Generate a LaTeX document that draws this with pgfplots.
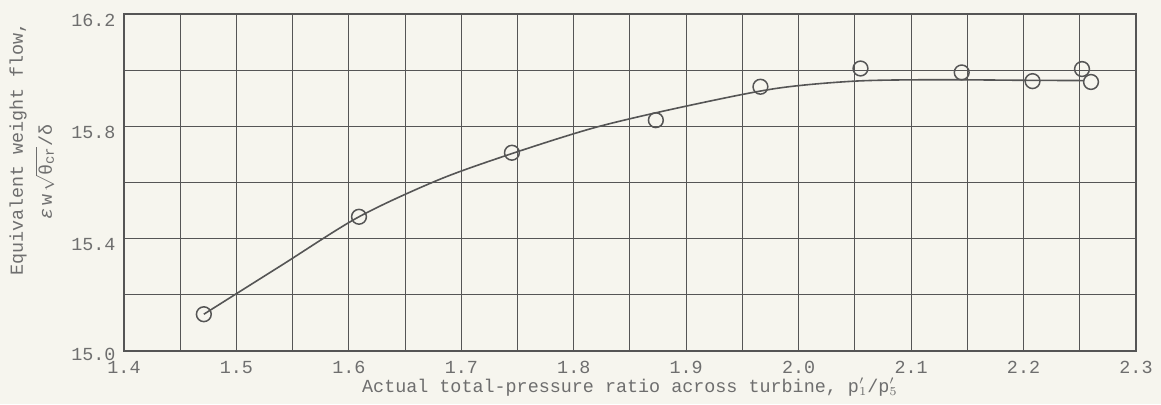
\documentclass[border=0pt]{standalone}
\usepackage{fontspec}
\setmainfont{Liberation Mono}
\usepackage{pgfplots}
\pgfplotsset{compat=1.18}
\usetikzlibrary{backgrounds}
\definecolor{paper}{RGB}{246,245,238}
\definecolor{ink}{RGB}{85,85,85}
\definecolor{txt}{RGB}{110,110,110}
\begin{document}
\fontsize{9.2}{11}\selectfont
\begin{tikzpicture}[show background rectangle, background rectangle/.style={fill=paper, draw=none}, inner frame sep=0pt]
\useasboundingbox (0,0) rectangle (580.5pt,202pt);
\begin{axis}[
  at={(62pt,26.5pt)}, anchor=south west,
  scale only axis, width=506pt, height=168.5pt,
  xmin=1.4, xmax=2.3, ymin=15.0, ymax=16.2,
  xtick={1.4,1.5,1.6,1.7,1.8,1.9,2.0,2.1,2.2,2.3},
  minor xtick={1.45,1.55,1.65,1.75,1.85,1.95,2.05,2.15,2.25},
  ytick={15.0,15.4,15.8,16.2},
  yticklabels={\raisebox{2.5pt}{15.0},15.4,15.8,16.2},
  minor ytick={15.2,15.6,16.0},
  grid=both,
  major grid style={ink, line width=0.5pt},
  minor grid style={ink, line width=0.5pt},
  major tick length=0pt, minor tick length=0pt,
  axis line style={ink, line width=0.6pt},
  /pgf/number format/assume math mode=true,
  /pgf/number format/fixed, /pgf/number format/fixed zerofill, /pgf/number format/precision=1,
  ticklabel style={text=txt, font=\fontsize{9.2}{11}\selectfont},
  yticklabel style={yshift=-3pt, xshift=-1pt},
  xticklabel style={yshift=-2pt},
  xlabel={Actual total-pressure ratio across turbine, p$'_{1}$/p$'_{5}$},
  xlabel style={text=txt, font=\fontsize{9.2}{11}\selectfont, yshift=4.5pt},
]
\addplot[ink, line width=0.8pt, smooth] coordinates {
(1.471,15.131) (1.54,15.305) (1.609,15.478) (1.68,15.610) (1.745,15.703)
(1.82,15.797) (1.90,15.872) (1.98,15.935) (2.05,15.961) (2.12,15.966)
(2.20,15.964) (2.253,15.963)
};
\addplot[only marks, mark=o, mark size=3.7pt, ink, line width=0.75pt] coordinates {
(1.471,15.131) (1.609,15.478) (1.745,15.706) (1.873,15.822) (1.966,15.941)
(2.055,16.006) (2.145,15.992) (2.208,15.961) (2.252,16.004) (2.260,15.958)
};
\end{axis}
\node[rotate=90, text=txt, inner sep=0pt] at (9pt,127.5pt) {Equivalent weight flow,};
\node[rotate=90, text=txt, inner sep=0pt] at (22.5pt,116pt) {\textit{ε}\,w\,$\sqrt{\mbox{θ}_{\mbox{\scriptsize cr}}}$/δ};
\end{tikzpicture}
\end{document}
